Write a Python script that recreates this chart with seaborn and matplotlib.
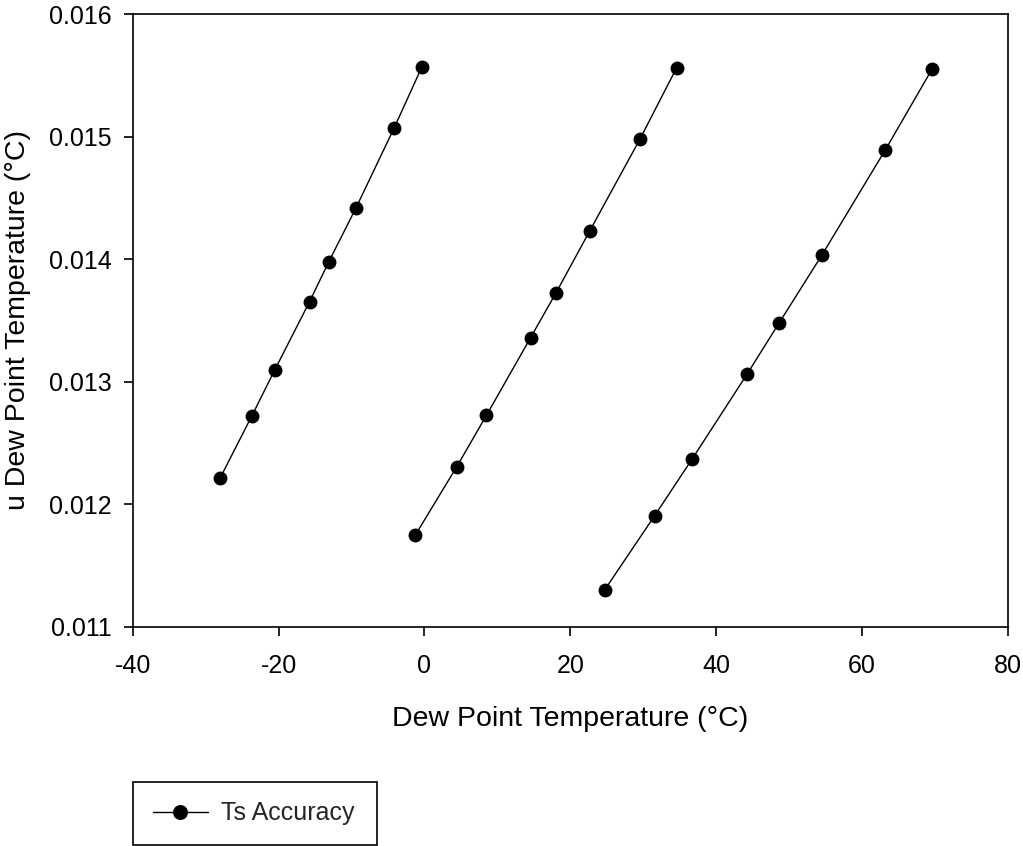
import matplotlib
matplotlib.use("Agg")
import matplotlib.pyplot as plt
import seaborn as sns
import pandas as pd
from matplotlib.lines import Line2D

# Data
seg1_x = [-27.99, -23.65, -20.5, -15.75, -13.1, -9.4, -4.15, -0.36]
seg1_y = [0.012216, 0.012722, 0.013098, 0.013653, 0.01398, 0.014416, 0.015071, 0.015567]
seg2_x = [-1.27, 4.43, 8.5, 14.55, 18.03, 22.64, 29.56, 34.57]
seg2_y = [0.011746, 0.012306, 0.012725, 0.013359, 0.013724, 0.014228, 0.014981, 0.015561]
seg3_x = [24.7, 31.56, 36.67, 44.25, 48.6, 54.5, 63.18, 69.62]
seg3_y = [0.0113, 0.011906, 0.012366, 0.013063, 0.013477, 0.014034, 0.014891, 0.015553]

x_ticks = [-40, -20, 0, 20, 40, 60, 80]
y_ticks = [0.011, 0.012, 0.013, 0.014, 0.015, 0.016]
series_label = "Ts Accuracy"
x_label = "Dew Point Temperature (°C)"
y_label = "u Dew Point Temperature (°C)"

rows = []
for seg, (xs, ys) in enumerate([(seg1_x, seg1_y), (seg2_x, seg2_y), (seg3_x, seg3_y)]):
    for xv, yv in zip(xs, ys):
        rows.append({"x": xv, "y": yv, "segment": seg})
df = pd.DataFrame(rows)

sns.set_theme(style="white")
plt.rcParams["font.family"] = ["Liberation Sans", "DejaVu Sans"]

W, H = 1023, 846
fig = plt.figure(figsize=(W / 100, H / 100), dpi=100)
ax = fig.add_axes([132.7 / W, 1 - 626.7 / H, (1008 - 132.7) / W, (626.7 - 14) / H])

sns.lineplot(data=df, x="x", y="y", units="segment", estimator=None, sort=False,
             color="black", marker="o", markersize=10, markeredgewidth=0,
             linewidth=1.0, ax=ax, legend=False)

ax.set_xlim(-40, 80)
ax.set_ylim(0.011, 0.016)
ax.set_xticks(x_ticks)
ax.set_yticks(y_ticks)
ax.set_xticklabels([str(v) for v in x_ticks])
ax.set_yticklabels([f"{v:.3f}" for v in y_ticks])
ax.tick_params(axis="both", direction="out", length=6.5, width=1.2, color="black",
               labelsize=18, labelcolor="black", bottom=True, left=True, top=False, right=False)
ax.tick_params(axis="x", pad=13)
ax.tick_params(axis="y", pad=8.5)
for sp in ax.spines.values():
    sp.set_color("black")
    sp.set_linewidth(1.2)
ax.set_xlabel(x_label, fontsize=20.5, color="black", labelpad=20)
ax.set_ylabel(y_label, fontsize=20.5, color="black", labelpad=13)

handle = Line2D([0], [0], color="black", marker="o", markersize=10.8, markeredgewidth=0, linewidth=1.0)
leg = fig.legend([handle], [series_label], loc="lower left",
                 bbox_to_anchor=(133 / W, 1 - 845 / H, (377 - 133) / W, (845 - 782) / H),
                 mode="expand", fontsize=18, framealpha=1,
                 frameon=True, fancybox=False, edgecolor="black", handlelength=2.2,
                 borderpad=0.79, borderaxespad=0, handletextpad=0.52)
leg.get_frame().set_linewidth(1.2)

fig.savefig("out.png", dpi=100)
